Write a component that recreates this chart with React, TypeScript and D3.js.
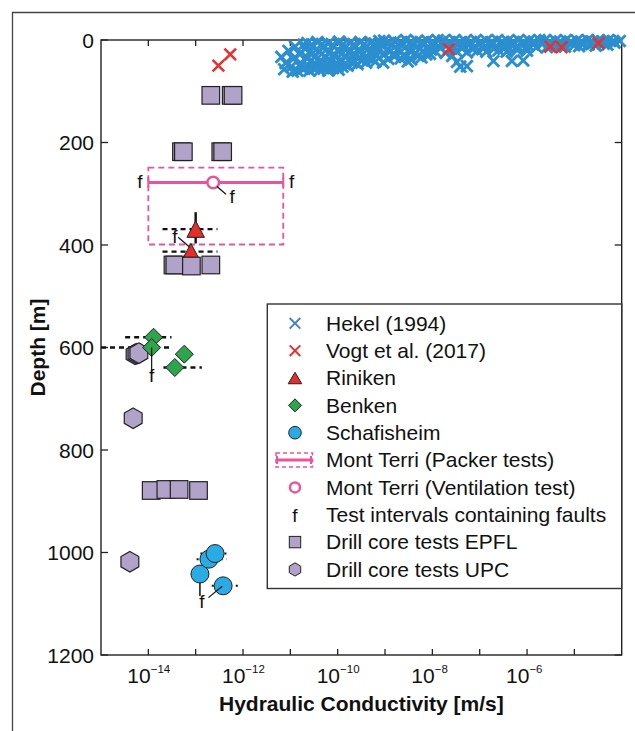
import React from "react";
import * as d3 from "d3";

const FONT = "'Liberation Sans', Arial, Helvetica, sans-serif";

// ---------- axis definitions ----------
const xDomainExp = [-15, -4];
const xTickExps = [-14, -13, -12, -11, -10, -9, -8, -7, -6, -5];
const xLabelExps = [-14, -12, -10, -8, -6];
const yTicks = [0, 200, 400, 600, 800, 1000, 1200];

// ---------- data: [log10 K (m/s), depth (m)] ----------
const hekel: [number, number][] = [
  [-11.19, 33], [-11.13, 57], [-11.1, 45], [-11.04, 21], [-10.98, 52], [-10.94, 37], [-10.9, 13], [-10.85, 60],
  [-10.8, 28], [-10.76, 47], [-10.72, 9], [-10.74, 56],
  [-10.64, 6], [-10.43, 4], [-10.2, 7], [-9.97, 3], [-9.74, 6], [-9.52, 4], [-9.3, 5], [-9.12, 2],
  [-10.69, 16], [-10.53, 13], [-10.31, 15], [-10.08, 12], [-9.87, 16], [-9.63, 13], [-9.41, 14], [-9.21, 11],
  [-10.6, 24], [-10.39, 22], [-10.19, 25], [-9.99, 21], [-9.77, 24], [-9.56, 22], [-9.33, 25], [-9.13, 20],
  [-10.66, 33], [-10.47, 31], [-10.26, 34], [-10.05, 30], [-9.83, 33], [-9.61, 31], [-9.37, 34], [-9.17, 30],
  [-10.58, 42], [-10.36, 40], [-10.15, 43], [-9.91, 41], [-9.7, 44], [-9.48, 40], [-9.26, 38],
  [-10.63, 50], [-10.42, 52], [-10.23, 49], [-10.01, 53], [-9.79, 50], [-9.58, 47],
  [-10.7, 55], [-10.5, 56], [-10.29, 54], [-10.1, 55], [-9.9, 52], [-10.17, 51], [-10.02, 46],
  [-10.55, 9], [-10.33, 8], [-10.11, 10], [-9.88, 8], [-9.66, 9], [-9.44, 8], [-9.22, 7],
  [-10.55, 28], [-10.33, 27], [-10.1, 29], [-9.9, 26], [-9.68, 28], [-9.46, 27], [-9.25, 24],
  [-10.5, 46], [-10.3, 45], [-9.85, 47], [-9.64, 43], [-9.4, 44], [-9.2, 42],
  [-10.95, 62], [-10.6, 60], [-10.38, 59], [-10.2, 60], [-9.98, 58],
  [-9.02, 1], [-8.8, 3], [-8.56, 0], [-8.33, 2], [-8.11, 1], [-7.89, 0],
  [-9.06, 10], [-8.86, 9], [-8.63, 11], [-8.41, 8], [-8.19, 10], [-7.96, 9],
  [-8.96, 19], [-8.73, 18], [-8.49, 20], [-8.26, 17], [-8.03, 19], [-7.83, 16],
  [-9.01, 28], [-8.81, 27], [-8.59, 29], [-8.36, 26], [-8.13, 28],
  [-8.93, 37], [-8.67, 36], [-8.45, 38], [-8.23, 34], [-9.04, 44], [-8.52, 42],
  [-8.92, 6], [-8.68, 5], [-8.45, 4], [-8.22, 5], [-7.99, 4],
  [-8.9, 23], [-8.68, 24], [-8.44, 23], [-8.2, 22], [-7.95, 21],
  [-8.8, 32], [-8.58, 33], [-8.3, 31], [-8.05, 27],
  [-7.76, 1], [-7.53, 0], [-7.31, 2], [-7.08, 0], [-6.86, 1], [-6.63, 0], [-6.41, 2], [-6.18, 0], [-5.96, 1], [-5.74, 0],
  [-7.68, 9], [-7.46, 8], [-7.23, 10], [-7.01, 8], [-6.78, 9], [-6.55, 7], [-6.33, 9], [-6.1, 8], [-5.88, 7],
  [-7.6, 17], [-7.38, 16], [-7.15, 18], [-6.92, 16], [-6.7, 17], [-6.48, 15], [-6.25, 16], [-6.02, 15], [-5.8, 14],
  [-7.72, 25], [-7.27, 24], [-6.86, 23], [-6.43, 23], [-6.0, 21], [-7.58, 31],
  [-7.64, 4], [-7.42, 5], [-7.19, 4], [-6.97, 5], [-6.74, 4], [-6.52, 4], [-6.29, 4], [-6.07, 4], [-5.85, 3],
  [-7.55, 13], [-7.33, 12], [-7.1, 13], [-6.88, 12], [-6.65, 12], [-6.42, 11], [-6.2, 12], [-5.97, 11],
  [-7.5, 21], [-7.05, 21], [-6.6, 20], [-6.2, 19],
  [-7.48, 43], [-7.41, 52], [-7.27, 51], [-6.71, 41], [-6.32, 41], [-6.08, 40],
  [-5.62, 0], [-5.4, 1], [-5.18, 0], [-4.95, 1], [-4.72, 0], [-4.5, 1], [-4.28, 0], [-4.04, 2],
  [-5.68, 8], [-5.5, 7], [-5.28, 8], [-5.05, 6], [-4.84, 8], [-4.6, 6], [-4.38, 7], [-4.15, 5],
  [-5.58, 14], [-5.2, 13], [-4.9, 12], [-4.55, 11],
  [-5.52, 4], [-5.3, 3], [-5.08, 4], [-4.85, 3], [-4.62, 3], [-4.4, 3], [-4.18, 2],
  [-5.4, 11], [-5.0, 10], [-4.7, 9], [-4.3, 9],
];

const vogt: [number, number][] = [
  [-12.52, 50], [-12.27, 28], [-7.65, 18], [-5.51, 13], [-5.27, 14], [-4.49, 6],
];

// Riniken: point, horizontal range (log K), optional vertical interval (depth)
const riniken = [
  { k: -13.0, d: 369, kLo: -13.7, kHi: -12.54, dTop: 336, dBot: 397 },
  { k: -13.1, d: 413, kLo: -13.7, kHi: -12.54, dTop: null as number | null, dBot: null as number | null },
];

const benken = [
  { k: -13.89, d: 580, kLo: -14.49, kHi: -13.51 },
  { k: -13.93, d: 600, kLo: -15.0, kHi: -13.52 },
  { k: -13.24, d: 613, kLo: null as number | null, kHi: null as number | null },
  { k: -13.44, d: 639, kLo: -13.68, kHi: -12.87 },
];

const schafisheim = [
  { k: -12.91, d: 1042, kLo: null as number | null, kHi: null as number | null },
  { k: -12.72, d: 1013, kLo: -12.98, kHi: -12.34 },
  { k: -12.59, d: 1002, kLo: -12.9, kHi: -12.33 },
  { k: -12.42, d: 1065, kLo: -12.66, kHi: -12.03 },
];

const monteTerriPacker = { kLo: -14.0, kHi: -11.15, d: 278, dTop: 249, dBot: 399 };
const monteTerriVent = { k: -12.63, d: 278 };

const epfl: [number, number][] = [
  [-12.68, 108], [-12.25, 108], [-12.21, 108],
  [-13.3, 218], [-13.26, 218], [-12.47, 218], [-12.43, 218],
  [-13.48, 439], [-13.44, 439], [-13.09, 441], [-12.68, 439],
  [-13.94, 879], [-13.63, 877], [-13.35, 877], [-12.94, 879],
];

const upc: [number, number][] = [
  [-14.28, 613], [-14.24, 612], [-14.2, 611], [-14.32, 738], [-14.39, 1018],
];

// fault labels: text position (log K, depth at baseline) and optional leader line
const faultLabels = [
  { k: -14.18, d: 289, line: null as number[] | null },
  { k: -10.97, d: 289, line: null as number[] | null },
  { k: -12.23, d: 318, line: [-12.55, 286, -12.36, 301] },
  { k: -13.44, d: 397, line: [-13.37, 385, -13.13, 404] },
  { k: -13.93, d: 667, line: [-13.93, 600, -13.93, 652] },
  { k: -12.87, d: 1109, line: [-12.73, 1088, -12.44, 1066] },
];
const schafVertical = [-12.91, 1042, -12.91, 1085];

const legendLabels = [
  "Hekel (1994)",
  "Vogt et al. (2017)",
  "Riniken",
  "Benken",
  "Schafisheim",
  "Mont Terri (Packer tests)",
  "Mont Terri (Ventilation test)",
  "Test intervals containing faults",
  "Drill core tests EPFL",
  "Drill core tests UPC",
];

// ---------- colours ----------
const C = {
  hekel: "#2b8ecf",
  hekelLegend: "#4a80c6",
  vogt: "#e8302f",
  riniken: "#e52d2a",
  benken: "#2ea44d",
  schaf: "#2aabe3",
  pink: "#e9559a",
  purple: "#b1a2c9",
  axis: "#222",
};

const xPath = (cx: number, cy: number, s: number) =>
  `M${cx - s},${cy - s}L${cx + s},${cy + s}M${cx - s},${cy + s}L${cx + s},${cy - s}`;
const triPath = (cx: number, cy: number, w: number, h: number) =>
  `M${cx},${cy - h / 2}L${cx + w / 2},${cy + h / 2}L${cx - w / 2},${cy + h / 2}Z`;
const diaPath = (cx: number, cy: number, r: number) =>
  `M${cx},${cy - r}L${cx + r},${cy}L${cx},${cy + r}L${cx - r},${cy}Z`;
const hexPath = (cx: number, cy: number, r: number) => {
  const pts = d3.range(6).map((i) => {
    const a = (Math.PI / 3) * i - Math.PI / 2;
    return [cx + r * Math.cos(a), cy + r * Math.sin(a)];
  });
  return "M" + pts.map((p) => p.join(",")).join("L") + "Z";
};

export default function App() {
  const xs = d3.scaleLog().domain([10 ** xDomainExp[0], 10 ** xDomainExp[1]]).range([101, 621.7]);
  const y = d3.scaleLinear().domain([0, 1200]).range([40, 655]);
  const X = (lk: number) => xs(10 ** lk);
  const [x0, x1] = xs.range();
  const [y0, y1] = y.range();

  const legX = 267.3, legY = 304, legW = x1 - 267.3, legH = 284.5;
  const rowY = (i: number) => 323.3 + i * 27.35;
  const symX = 295;

  const fam = { fontFamily: FONT };

  return (
    <svg width={635} height={731} style={{ position: "absolute", left: 0, top: 0, background: "#fff" }}>
      {/* outer frame */}
      <path d="M12.5,731V12.5H635" fill="none" stroke="#444" strokeWidth={1.3} />

      {/* plot box */}
      <rect x={x0} y={y0} width={x1 - x0} height={y1 - y0} fill="none" stroke={C.axis} strokeWidth={1.4} />
      {/* x ticks */}
      {xTickExps.map((e) => (
        <g key={"xt" + e}>
          <line x1={X(e)} x2={X(e)} y1={y1} y2={y1 - 6} stroke={C.axis} strokeWidth={1.3} />
          <line x1={X(e)} x2={X(e)} y1={y0} y2={y0 + 6} stroke={C.axis} strokeWidth={1.3} />
        </g>
      ))}
      {/* y ticks */}
      {yTicks.map((t) => (
        <g key={"yt" + t}>
          <line x1={x0} x2={x0 + 7} y1={y(t)} y2={y(t)} stroke={C.axis} strokeWidth={1.3} />
          <line x1={x1} x2={x1 - 7} y1={y(t)} y2={y(t)} stroke={C.axis} strokeWidth={1.3} />
          <text x={94} y={y(t) + 7.5} textAnchor="end" fontSize={21} {...fam} fill="#111">
            {t}
          </text>
        </g>
      ))}
      {/* x tick labels */}
      {xLabelExps.map((e) => (
        <text key={"xl" + e} x={X(e) - 21} y={682.7} fontSize={21} {...fam} fill="#111">
          10
          <tspan fontSize={11.5} dy={-9.5}>
            {"\u2212" + Math.abs(e)}
          </tspan>
        </text>
      ))}
      <text x={(x0 + x1) / 2} y={711} textAnchor="middle" fontSize={21} fontWeight="bold" {...fam} fill="#111">
        Hydraulic Conductivity [m/s]
      </text>
      <text
        transform={`translate(45,${(y0 + y1) / 2}) rotate(-90)`}
        textAnchor="middle"
        fontSize={21}
        fontWeight="bold"
        {...fam}
        fill="#111"
      >
        Depth [m]
      </text>

      {/* Mont Terri packer box + line */}
      <rect
        x={X(monteTerriPacker.kLo)}
        y={y(monteTerriPacker.dTop)}
        width={X(monteTerriPacker.kHi) - X(monteTerriPacker.kLo)}
        height={y(monteTerriPacker.dBot) - y(monteTerriPacker.dTop)}
        fill="none"
        stroke={C.pink}
        strokeWidth={1.8}
        strokeDasharray="6,4"
      />
      <line
        x1={X(monteTerriPacker.kLo)}
        x2={X(monteTerriPacker.kHi)}
        y1={y(monteTerriPacker.d)}
        y2={y(monteTerriPacker.d)}
        stroke={C.pink}
        strokeWidth={3}
      />
      {[monteTerriPacker.kLo, monteTerriPacker.kHi].map((k, i) => (
        <line key={"cap" + i} x1={X(k)} x2={X(k)} y1={y(monteTerriPacker.d) - 5} y2={y(monteTerriPacker.d) + 5} stroke={C.pink} strokeWidth={2} />
      ))}

      {/* Riniken */}
      {riniken.map((r, i) => (
        <g key={"rl" + i}>
          <line x1={X(r.kLo)} x2={X(r.kHi)} y1={y(r.d)} y2={y(r.d)} stroke="#111" strokeWidth={2.4} strokeDasharray="5,4" />
          {r.dTop !== null && (
            <line x1={X(r.k)} x2={X(r.k)} y1={y(r.dTop)} y2={y(r.dBot as number)} stroke="#111" strokeWidth={2.4} />
          )}
        </g>
      ))}
      {riniken.map((r, i) => (
        <path key={"rt" + i} d={triPath(X(r.k), y(r.d), 17.5, 16.5)} fill={C.riniken} stroke="#222" strokeWidth={1} />
      ))}

      {/* EPFL squares */}
      {epfl.map(([k, d], i) => (
        <rect key={"sq" + i} x={X(k) - 8.8} y={y(d) - 8.8} width={17.6} height={17.6} fill={C.purple} stroke="#222" strokeWidth={1.2} />
      ))}

      {/* Benken dashed lines */}
      {benken.map((b, i) =>
        b.kLo !== null ? (
          <line key={"bl" + i} x1={X(b.kLo)} x2={X(b.kHi as number)} y1={y(b.d)} y2={y(b.d)} stroke="#111" strokeWidth={2.4} strokeDasharray="5,4" />
        ) : null
      )}
      {/* UPC hexagons */}
      {upc.map(([k, d], i) => (
        <path key={"hx" + i} d={hexPath(X(k), y(d), 10.3)} fill={C.purple} stroke="#222" strokeWidth={1.2} />
      ))}
      {/* Benken diamonds */}
      {benken.map((b, i) => (
        <path key={"bd" + i} d={diaPath(X(b.k), y(b.d), 9)} fill={C.benken} stroke="#222" strokeWidth={1} />
      ))}

      {/* Schafisheim */}
      {schafisheim.map((s, i) =>
        s.kLo !== null ? (
          <line key={"sl" + i} x1={X(s.kLo)} x2={X(s.kHi as number)} y1={y(s.d)} y2={y(s.d)} stroke="#111" strokeWidth={2} strokeDasharray="2,4" />
        ) : null
      )}
      <line x1={X(schafVertical[0])} x2={X(schafVertical[2])} y1={y(schafVertical[1])} y2={y(schafVertical[3])} stroke="#111" strokeWidth={1.5} />
      {schafisheim.map((s, i) => (
        <circle key={"sc" + i} cx={X(s.k)} cy={y(s.d)} r={9} fill={C.schaf} stroke="#222" strokeWidth={1} />
      ))}

      {/* Mont Terri ventilation */}
      <circle cx={X(monteTerriVent.k)} cy={y(monteTerriVent.d)} r={5.8} fill="#fff" stroke={C.pink} strokeWidth={2.5} />

      {/* fault labels */}
      {faultLabels.map((f, i) => (
        <g key={"f" + i}>
          {f.line && (
            <line x1={X(f.line[0])} y1={y(f.line[1])} x2={X(f.line[2])} y2={y(f.line[3])} stroke="#111" strokeWidth={1.2} />
          )}
          <text x={X(f.k)} y={y(f.d)} textAnchor="middle" fontSize={19} {...fam} fill="#111">
            f
          </text>
        </g>
      ))}

      {/* Hekel */}
      {hekel.map(([k, d], i) => (
        <path key={"hk" + i} d={xPath(X(k), y(d), 5.8)} stroke={C.hekel} strokeWidth={2.9} fill="none" />
      ))}
      {/* Vogt */}
      {vogt.map(([k, d], i) => (
        <path key={"vg" + i} d={xPath(X(k), y(d), 5.8)} stroke={C.vogt} strokeWidth={2.6} fill="none" />
      ))}

      {/* legend */}
      <rect x={legX} y={legY} width={legW} height={legH} fill="#fff" stroke="#333" strokeWidth={1.4} />
      {legendLabels.map((l, i) => (
        <text key={"lg" + i} x={326} y={rowY(i) + 7.3} fontSize={21} {...fam} fill="#111">
          {l}
        </text>
      ))}
      <path d={xPath(symX, rowY(0), 5.3)} stroke={C.hekelLegend} strokeWidth={2} fill="none" />
      <path d={xPath(symX, rowY(1), 5.3)} stroke={C.vogt} strokeWidth={2} fill="none" />
      <path d={triPath(symX, rowY(2), 13.5, 11.5)} fill={C.riniken} stroke="#222" strokeWidth={1} />
      <path d={diaPath(symX, rowY(3), 6.5)} fill={C.benken} stroke="#222" strokeWidth={1} />
      <circle cx={symX} cy={rowY(4)} r={6.3} fill={C.schaf} stroke="#222" strokeWidth={1} />
      <rect x={276} y={rowY(5) - 7} width={36.5} height={14} fill="none" stroke={C.pink} strokeWidth={1.5} strokeDasharray="4,3" />
      <line x1={276.5} x2={311.5} y1={rowY(5)} y2={rowY(5)} stroke={C.pink} strokeWidth={3} />
      <line x1={277} x2={277} y1={rowY(5) - 4} y2={rowY(5) + 4} stroke={C.pink} strokeWidth={2} />
      <line x1={311} x2={311} y1={rowY(5) - 4} y2={rowY(5) + 4} stroke={C.pink} strokeWidth={2} />
      <circle cx={symX} cy={rowY(6)} r={5} fill="#fff" stroke={C.pink} strokeWidth={2.5} />
      <text x={symX} y={rowY(7) + 7} textAnchor="middle" fontSize={19} {...fam} fill="#111">
        f
      </text>
      <rect x={symX - 5.7} y={rowY(8) - 5.7} width={11.4} height={11.4} fill={C.purple} stroke="#222" strokeWidth={1} />
      <path d={hexPath(symX, rowY(9), 6.6)} fill={C.purple} stroke="#222" strokeWidth={1} />
    </svg>
  );
}
